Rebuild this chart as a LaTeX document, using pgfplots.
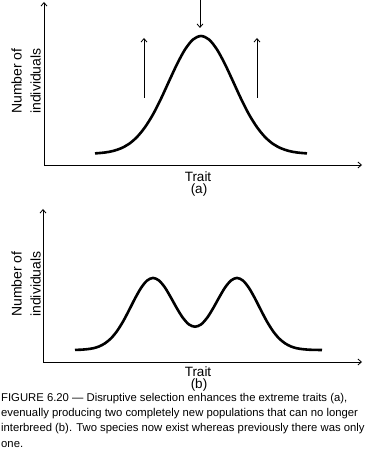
\documentclass[border=0pt]{standalone}
\usepackage{fontspec}
\setmainfont{Liberation Sans}
\usepackage{pgfplots}
\pgfplotsset{compat=1.18}
\usetikzlibrary{arrows.meta}
\begin{document}
\begin{tikzpicture}
\path[use as bounding box] (0,0) rectangle (383pt,456pt);
\pgfplotsset{
  myaxis/.style={
    anchor=south west, scale only axis,
    axis lines*=left,
    axis line style={line width=0.8pt,-{Straight Barb[length=3.5pt,width=6pt]}},
    xtick=\empty, ytick=\empty, clip=false,
    enlargelimits=false,
  }
}
% ---------- (a)
\begin{axis}[myaxis, at={(44pt,291pt)}, width=318pt, height=163pt,
  xmin=44, xmax=362, ymin=0, ymax=163]
\addplot[black, line width=2.6pt, smooth, line cap=butt] coordinates {
(95,11.6) (105,12.5) (113,14.0) (121,16.7) (129,21.1) (137,28.0) (145,37.8)
(153,50.6) (161,66.3) (169,83.7) (177,100.8) (185,115.5) (193,125.5) (201,129)
(209,125.5) (217,115.5) (225,100.8) (233,83.7) (241,66.3) (249,50.6) (257,37.8)
(265,28.0) (273,21.1) (281,16.7) (289,14.0) (297,12.5) (307,11.6)};
\addplot[black, line width=0.8pt, -{Straight Barb[length=3.5pt,width=6pt]}] coordinates {(144,67) (144,127)};
\addplot[black, line width=0.8pt, -{Straight Barb[length=3.5pt,width=6pt]}] coordinates {(257,67) (257,127)};
\addplot[black, line width=0.8pt, -{Straight Barb[length=3.5pt,width=6pt]}] coordinates {(200,166) (200,137)};
\end{axis}
% ---------- (b)
\begin{axis}[myaxis, at={(43pt,94pt)}, width=319pt, height=153pt,
  xmin=43, xmax=362, ymin=0, ymax=153]
\addplot[black, line width=2.6pt, smooth, line cap=butt] coordinates {
(75,12.1) (81,12.3) (87,12.8) (93,13.7) (99,15.5) (105,18.7) (111,23.6)
(117,30.9) (123,40.4) (129,51.7) (135,63.5) (141,74.0) (147,81.4) (153,84.05)
(159,81.5) (165,74.4) (171,64.3) (177,53.5) (183,44.0) (189,37.5) (195,35.3)
(201,37.5) (207,44.0) (213,53.5) (219,64.3) (225,74.4) (231,81.5) (237,84.05)
(243,81.4) (249,74.0) (255,63.5) (261,51.7) (267,40.4) (273,30.9) (279,23.6)
(285,18.7) (291,15.5) (297,13.7) (303,12.8) (309,12.3) (315,12.1) (322,12.0)};
\end{axis}
% ---------- labels
\node[rotate=90, align=center, font=\fontsize{14}{19}\selectfont, inner sep=0pt] at (26pt,375pt) {Number of\\individuals};
\node[rotate=90, align=center, font=\fontsize{14}{19}\selectfont, inner sep=0pt] at (26pt,172pt) {Number of\\individuals};
\node[anchor=base, font=\fontsize{13.5}{16}\selectfont, inner sep=0pt] at (198pt,274pt) {Trait};
\node[anchor=base, font=\fontsize{13.5}{16}\selectfont, inner sep=0pt] at (199pt,262pt) {(a)};
\node[anchor=base, font=\fontsize{13.5}{16}\selectfont, inner sep=0pt] at (198pt,79.5pt) {Trait};
\node[anchor=base, font=\fontsize{13.5}{16}\selectfont, inner sep=0pt] at (199pt,67.5pt) {(b)};
% ---------- caption
\node[anchor=base west, font=\fontsize{11.3}{15}\selectfont, inner sep=0pt] at (1pt,54pt) {FIGURE 6.20 --- Disruptive selection enhances the extreme traits (a),};
\node[anchor=base west, font=\fontsize{11.3}{15}\selectfont, inner sep=0pt] at (1pt,39pt) {evenually producing two completely new populations that can no longer};
\node[anchor=base west, font=\fontsize{11.3}{15}\selectfont, inner sep=0pt] at (1pt,24pt) {interbreed (b). Two species now exist whereas previously there was only};
\node[anchor=base west, font=\fontsize{11.3}{15}\selectfont, inner sep=0pt] at (1pt,9pt) {one.};
\end{tikzpicture}
\end{document}
